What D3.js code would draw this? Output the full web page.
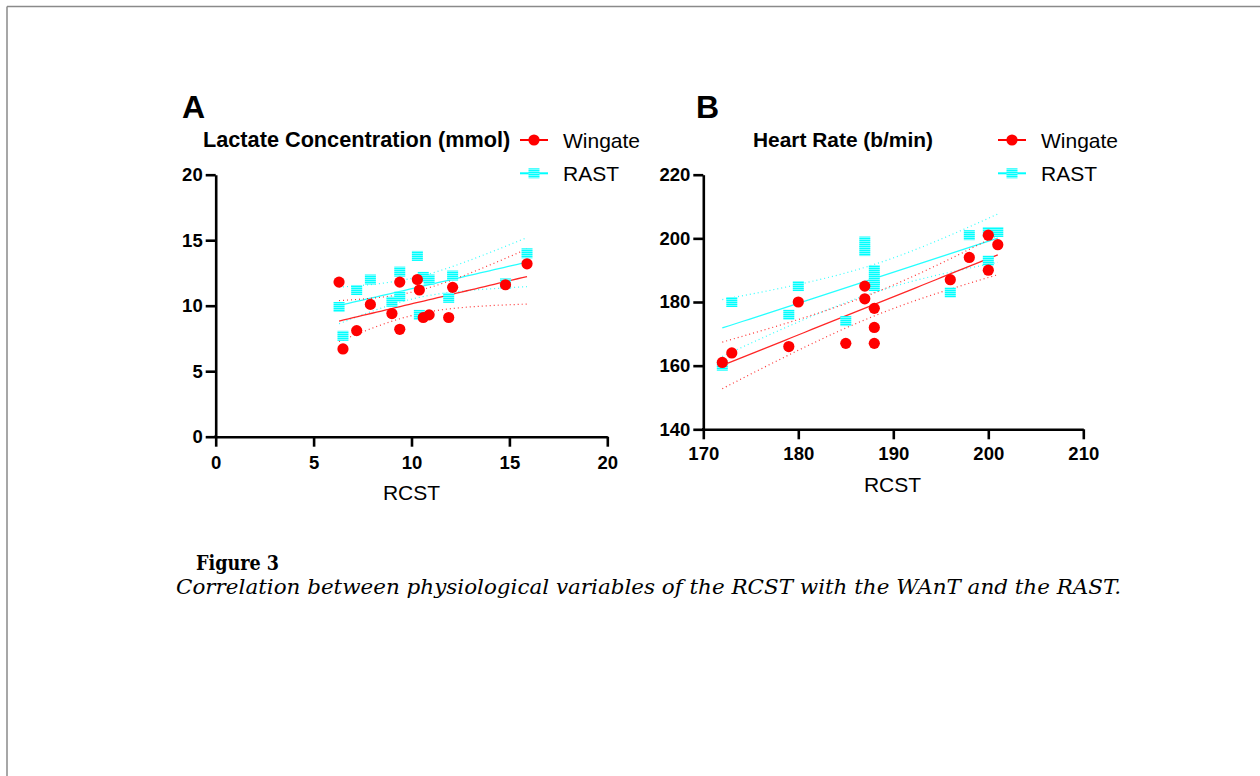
<!DOCTYPE html>
<html>
<head>
<meta charset="utf-8">
<script src="https://cdn.jsdelivr.net/npm/d3@7"></script>
<style>
  body { margin: 0; background: #fff; }
  svg { display: block; }
  .tick text { font-family: "Liberation Sans", Arial, sans-serif; font-weight: bold; font-size: 18.5px; fill: #000; }
</style>
</head>
<body>
<div id="chart"></div>
<script>
// Panel A: lactate concentration (mmol)
const rcstLactate    = [6.3, 6.5, 7.2, 7.9, 9.0, 9.4, 9.4, 10.3, 10.4, 10.6, 10.9, 11.9, 12.1, 14.8, 15.9];
const wingateLactate = [11.8, 6.7, 8.1, 10.1, 9.4, 11.8, 8.2, 12.0, 11.2, 9.1, 9.3, 9.1, 11.4, 11.6, 13.2];
const rastLactate    = [9.9, 7.7, 11.2, 12.0, 10.3, 12.6, 10.7, 13.8, 9.3, 12.2, 12.0, 10.6, 12.3, 11.7, 14.0];
const ticksLactateX  = [0, 5, 10, 15, 20];
const ticksLactateY  = [0, 5, 10, 15, 20];

// Panel B: heart rate (b/min)
const rcstHR    = [172, 173, 179, 180, 185, 187, 187, 188, 188, 188, 196, 198, 200, 200, 201];
const wingateHR = [161, 164, 166, 180, 167, 185, 181, 178, 172, 167, 187, 194, 201, 190, 198];
const rastHR    = [160, 180, 176, 185, 174, 199, 196, 190, 187, 185, 183, 201, 202, 193, 202];
const ticksHRX  = [170, 180, 190, 200, 210];
const ticksHRY  = [140, 160, 180, 200, 220];

const seriesNames = ['Wingate', 'RAST'];

const W = 1260, H = 776;
const RED = '#ff0000', CYAN = '#00ffff';
const FONT = '"Liberation Sans", Arial, sans-serif';
const T_CRIT = 2.160; // t(0.975, df = 13)

const svg = d3.select('#chart').append('svg')
    .attr('width', W)
    .attr('height', H);

// striped fill for the RAST squares
const pat = svg.append('defs').append('pattern')
    .attr('id', 'stripes')
    .attr('patternUnits', 'userSpaceOnUse')
    .attr('width', 4).attr('height', 2);
pat.append('rect').attr('width', 4).attr('height', 2).attr('fill', '#b8ffff');
pat.append('rect').attr('width', 4).attr('height', 1.35).attr('fill', CYAN);

// page frame
svg.append('line').attr('x1', 7).attr('y1', 6.5).attr('x2', W).attr('y2', 6.5)
    .attr('stroke', '#8a8a8a').attr('stroke-width', 1.5);
svg.append('line').attr('x1', 7).attr('y1', 6.5).attr('x2', 7).attr('y2', H)
    .attr('stroke', '#8a8a8a').attr('stroke-width', 1.5);

function regression(xs, ys) {
    const n = xs.length;
    const mx = d3.mean(xs), my = d3.mean(ys);
    let sxx = 0, sxy = 0;
    xs.forEach((x, i) => { sxx += (x - mx) ** 2; sxy += (x - mx) * (ys[i] - my); });
    const b = sxy / sxx, a = my - b * mx;
    let sse = 0;
    xs.forEach((x, i) => { sse += (ys[i] - (a + b * x)) ** 2; });
    const s = Math.sqrt(sse / (n - 2));
    const fit = x => a + b * x;
    const half = x => T_CRIT * s * Math.sqrt(1 / n + (x - mx) ** 2 / sxx);
    return { fit, half };
}

function drawPanel(cfg) {
    const x = d3.scaleLinear().domain(cfg.xDomain).range([cfg.left, cfg.right]);
    const y = d3.scaleLinear().domain(cfg.yDomain).range([cfg.bottom, cfg.top]);
    const g = svg.append('g');

    // panel letter and title
    g.append('text').attr('x', cfg.letterX).attr('y', 118)
        .attr('font-family', FONT).attr('font-weight', 'bold').attr('font-size', 32)
        .text(cfg.letter);
    g.append('text').attr('x', cfg.titleX).attr('y', 147)
        .attr('font-family', FONT).attr('font-weight', 'bold').attr('font-size', cfg.titleSize)
        .text(cfg.title);

    // axes
    const xAxis = g.append('g')
        .attr('transform', `translate(0,${cfg.bottom})`)
        .call(d3.axisBottom(x).tickValues(cfg.xTicks).tickSize(10).tickPadding(cfg.xPad).tickSizeOuter(0));
    const yAxis = g.append('g')
        .attr('transform', `translate(${cfg.left},0)`)
        .call(d3.axisLeft(y).tickValues(cfg.yTicks).tickSize(10).tickPadding(3).tickSizeOuter(0));
    [xAxis, yAxis].forEach(ax => {
        ax.select('.domain').attr('stroke', '#000').attr('stroke-width', 2.6);
        ax.selectAll('.tick line').attr('stroke', '#000').attr('stroke-width', 2.6);
    });
    // join the two axis lines at the corner
    g.append('rect').attr('x', cfg.left - 1.3).attr('y', cfg.bottom - 1.3)
        .attr('width', 2.6).attr('height', 2.6).attr('fill', '#000');

    g.append('text').attr('x', cfg.xLabelX).attr('y', cfg.xLabelY)
        .attr('text-anchor', 'middle')
        .attr('font-family', FONT).attr('font-size', 21)
        .text('RCST');

    // regression lines with 95% confidence bands
    const xs = cfg.xs;
    const xMin = d3.min(xs), xMax = d3.max(xs);
    const samples = d3.range(0, 41).map(i => xMin + (xMax - xMin) * i / 40);
    const line = d3.line().x(d => x(d[0])).y(d => y(d[1]));
    [[cfg.rast, CYAN], [cfg.wingate, RED]].forEach(([ys, col]) => {
        const r = regression(xs, ys);
        g.append('path').attr('d', line(samples.map(v => [v, r.fit(v)])))
            .attr('fill', 'none').attr('stroke', col).attr('stroke-width', 1.3).attr('opacity', 0.85);
        [1, -1].forEach(sign => {
            g.append('path').attr('d', line(samples.map(v => [v, r.fit(v) + sign * r.half(v)])))
                .attr('fill', 'none').attr('stroke', col).attr('stroke-width', 1.2)
                .attr('stroke-dasharray', '1,3').attr('opacity', 0.8);
        });
    });

    // points: RAST squares under Wingate circles
    g.selectAll('.sq').data(xs.map((v, i) => [v, cfg.rast[i]])).enter()
        .append('rect')
        .attr('x', d => x(d[0]) - 5.5).attr('y', d => y(d[1]) - 5)
        .attr('width', 11).attr('height', 10)
        .attr('fill', 'url(#stripes)');
    g.selectAll('.dot').data(xs.map((v, i) => [v, cfg.wingate[i]])).enter()
        .append('circle')
        .attr('cx', d => x(d[0])).attr('cy', d => y(d[1]))
        .attr('r', 5.6).attr('fill', RED);

    // legend
    const lg = g.append('g');
    seriesNames.forEach((name, i) => {
        const ly = 140 + i * 33.3;
        const col = i === 0 ? RED : CYAN;
        lg.append('line').attr('x1', cfg.legendX).attr('x2', cfg.legendX + 28)
            .attr('y1', ly).attr('y2', ly).attr('stroke', col).attr('stroke-width', 2);
        if (i === 0) {
            lg.append('circle').attr('cx', cfg.legendX + 14).attr('cy', ly).attr('r', 5.6).attr('fill', col);
        } else {
            lg.append('rect').attr('x', cfg.legendX + 8.5).attr('y', ly - 5)
                .attr('width', 11).attr('height', 10).attr('fill', 'url(#stripes)');
        }
        lg.append('text').attr('x', cfg.legendX + 43).attr('y', ly + 7.5)
            .attr('font-family', FONT).attr('font-size', 21)
            .text(name);
    });
}

drawPanel({
    letter: 'A', letterX: 182, title: 'Lactate Concentration (mmol)', titleX: 203, titleSize: 21.7,
    xs: rcstLactate, wingate: wingateLactate, rast: rastLactate,
    xDomain: [0, 20], yDomain: [0, 20], xTicks: ticksLactateX, yTicks: ticksLactateY,
    left: 215.7, right: 607.3, top: 174.7, bottom: 436.7, xPad: 9,
    xLabelX: 411.5, xLabelY: 500, legendX: 520
});

drawPanel({
    letter: 'B', letterX: 696, title: 'Heart Rate (b/min)', titleX: 753, titleSize: 20.9,
    xs: rcstHR, wingate: wingateHR, rast: rastHR,
    xDomain: [170, 210], yDomain: [140, 220], xTicks: ticksHRX, yTicks: ticksHRY,
    left: 703.3, right: 1083.3, top: 174.7, bottom: 429.3, xPad: 8,
    xLabelX: 892.5, xLabelY: 491.5, legendX: 998
});

// caption
svg.append('text').attr('x', 196).attr('y', 570)
    .attr('font-family', '"DejaVu Serif", "Liberation Serif", serif')
    .attr('font-weight', 'bold').attr('font-size', 21)
    .attr('textLength', 83).attr('lengthAdjust', 'spacingAndGlyphs')
    .text('Figure 3');
svg.append('text').attr('x', 176).attr('y', 594)
    .attr('font-family', '"DejaVu Serif", "Liberation Serif", serif')
    .attr('font-style', 'italic').attr('font-size', 21)
    .attr('textLength', 945).attr('lengthAdjust', 'spacingAndGlyphs')
    .text('Correlation between physiological variables of the RCST with the WAnT and the RAST.');
</script>
</body>
</html>
